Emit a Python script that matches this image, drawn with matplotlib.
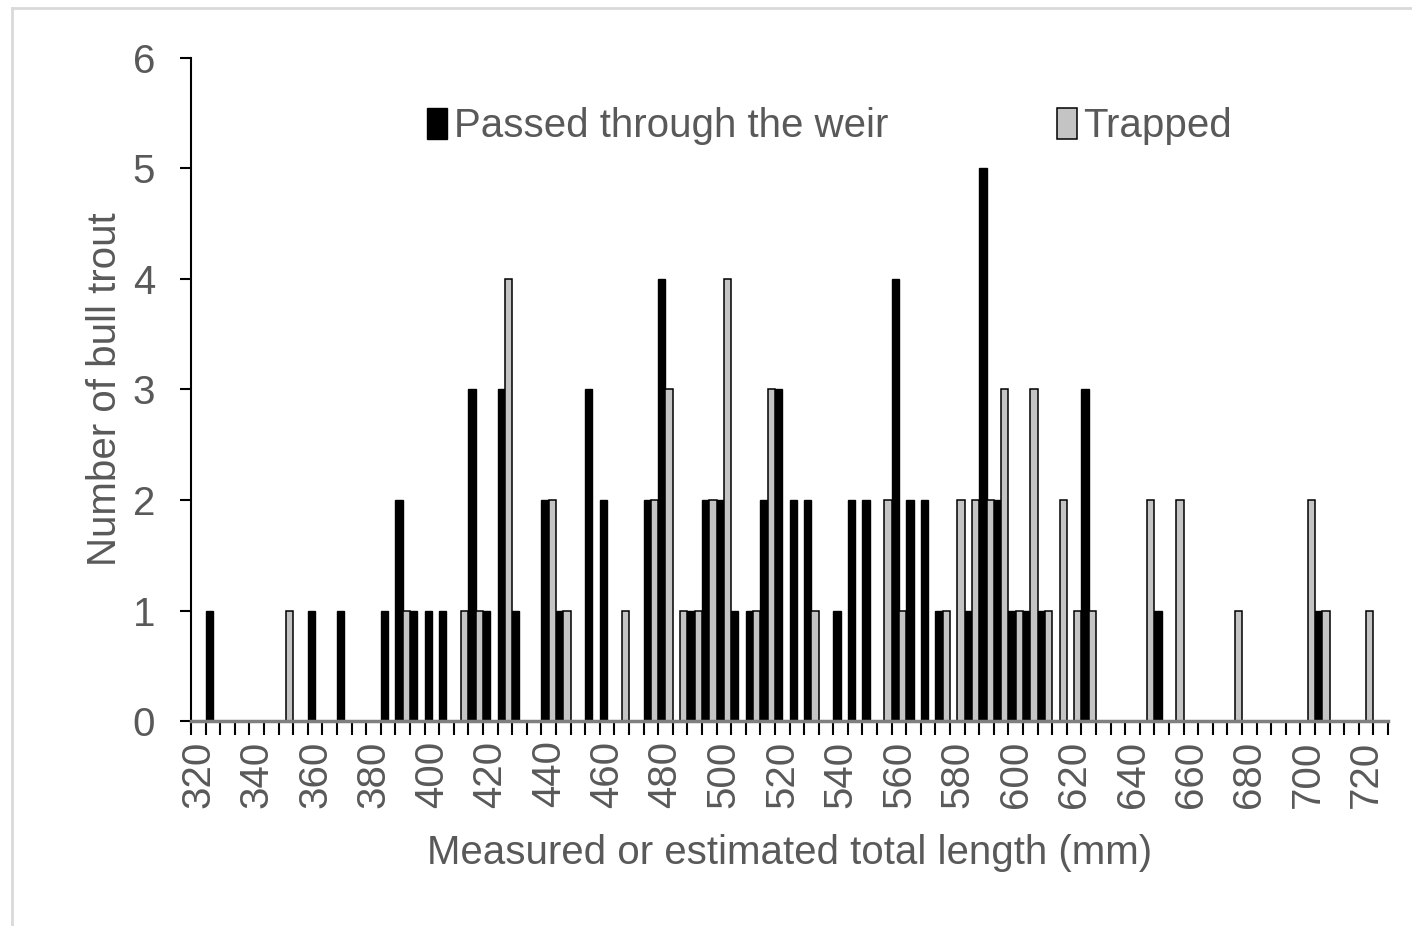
import numpy as np
import matplotlib
matplotlib.use('Agg')
import matplotlib.pyplot as plt
from matplotlib.lines import Line2D
from matplotlib.ticker import FixedLocator, NullFormatter

plt.rcParams['font.family'] = ['Liberation Sans', 'DejaVu Sans']

# length classes (mm), 5 mm bins
lengths = list(range(320, 730, 5))

# counts per length class
passed = {325: 1, 360: 1, 370: 1, 385: 1, 390: 2, 395: 1, 400: 1, 405: 1,
          415: 3, 420: 1, 425: 3, 430: 1, 440: 2, 445: 1, 455: 3, 460: 2,
          475: 2, 480: 4, 490: 1, 495: 2, 500: 2, 505: 1, 510: 1, 515: 2,
          520: 3, 525: 2, 530: 2, 540: 1, 545: 2, 550: 2, 560: 4, 565: 2,
          570: 2, 575: 1, 585: 1, 590: 5, 595: 2, 600: 1, 605: 1, 610: 1,
          625: 3, 650: 1, 705: 1}
trapped = {350: 1, 390: 1, 410: 1, 415: 1, 425: 4, 440: 2, 445: 1, 465: 1,
           475: 2, 480: 3, 485: 1, 490: 1, 495: 2, 500: 4, 510: 1, 515: 3,
           530: 1, 555: 2, 560: 1, 575: 1, 580: 2, 585: 2, 590: 2, 595: 3,
           600: 1, 605: 3, 610: 1, 615: 2, 620: 1, 625: 1, 645: 2, 655: 2,
           675: 1, 700: 2, 705: 1, 720: 1}

passed_counts = [passed.get(v, 0) for v in lengths]
trapped_counts = [trapped.get(v, 0) for v in lengths]

txt = '#595959'
fs = 29
W, H = 1412, 926
fig = plt.figure(figsize=(W / 100, H / 100), dpi=100)

# chart-area border (top and left edges visible)
fig.add_artist(Line2D([12 / W, 1], [1 - 8 / H, 1 - 8 / H], color='#d9d9d9', lw=2))
fig.add_artist(Line2D([12 / W, 12 / W], [0, 1 - 8 / H], color='#d9d9d9', lw=2))

ax = fig.add_axes([191 / W, 1 - 721 / H, (1388 - 191) / W, (721 - 58) / H])

x = np.arange(len(lengths))
bw = 0.5
ax.bar(x - bw / 2, passed_counts, width=bw, color='black', edgecolor='black',
       linewidth=1.0, label='Passed through the weir', zorder=2)
ax.bar(x + bw / 2, trapped_counts, width=bw, color='#c4c4c4', edgecolor='black',
       linewidth=1.1, label='Trapped', zorder=2)

ax.set_xlim(-0.5, len(lengths) - 0.5)
ax.set_ylim(0, 6)

for s in ['top', 'right']:
    ax.spines[s].set_visible(False)
ax.spines['left'].set_color('black')
ax.spines['left'].set_linewidth(1.5)
ax.spines['bottom'].set_color('#7f7f7f')
ax.spines['bottom'].set_linewidth(2.5)
ax.spines['bottom'].set_zorder(3)

ax.set_yticks(range(0, 7))
ax.tick_params(axis='y', length=8, width=1.5, color='black', labelsize=fs,
               labelcolor=txt, pad=18)

lab_idx = x[::4]
ax.set_xticks(lab_idx)
ax.set_xticklabels([str(lengths[i]) for i in lab_idx], rotation=90)
ax.xaxis.set_minor_locator(FixedLocator(np.arange(-0.5, len(lengths), 1.0)))
ax.xaxis.set_minor_formatter(NullFormatter())
ax.tick_params(axis='x', which='major', length=0, labelsize=fs,
               labelcolor=txt, pad=14)
ax.tick_params(axis='x', which='minor', length=10, width=1.5, color='black')

ax.set_xlabel('Measured or estimated total length (mm)', fontsize=fs,
              color=txt, labelpad=19)
ax.set_ylabel('Number of bull trout', fontsize=fs, color=txt, labelpad=6)

ax.legend(loc='upper left', bbox_to_anchor=(0.184, 0.95), ncol=2,
          frameon=False, fontsize=fs, labelcolor=txt, handlelength=0.5,
          handleheight=0.8, handletextpad=0.15, columnspacing=4.2,
          borderaxespad=0)

fig.savefig('out.png', dpi=100)
